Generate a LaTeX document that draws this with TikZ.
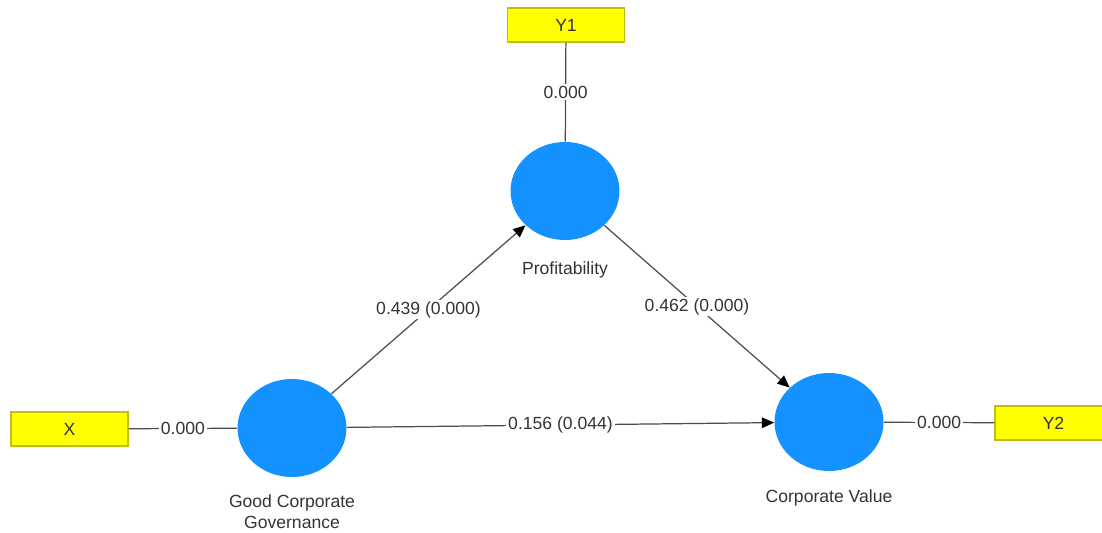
\documentclass[tikz,border=0pt]{standalone}
\usepackage{fontspec}
\setmainfont{Liberation Sans}
\usetikzlibrary{shapes.geometric, arrows.meta, positioning}

\definecolor{lvblue}{RGB}{20,146,255}
\definecolor{indyellow}{RGB}{255,255,0}
\definecolor{indborder}{RGB}{190,190,20}

\begin{document}
\begin{tikzpicture}[
    x=0.02cm, y=-0.02cm,
    font=\fontsize{10}{12}\selectfont,
    >={Triangle[length=7pt, width=6pt, color=black]},
    % latent variables
    latent/.style={
        ellipse,
        fill=lvblue,
        minimum width=2.18cm,
        minimum height=1.96cm
    },
    % indicator boxes
    indicator/.style={
        rectangle,
        fill=indyellow,
        draw=indborder,
        line width=0.6pt,
        minimum width=2.34cm,
        minimum height=0.68cm,
        text=black!80
    },
    lvlabel/.style={text=black!80, align=center},
    link/.style={draw=black!70, line width=0.7pt},
    coef/.style={fill=white, text=black!80, inner sep=1pt}
]
    \useasboundingbox (0,0) rectangle (1102,533);
    \clip (0,0) rectangle (1102,533);

    % --- LATENT VARIABLES ---
    \node[latent] (gcg) at (292,428) {};
    \node[latent] (prof) at (565,191) {};
    \node[latent] (cv) at (829,422) {};

    \node[lvlabel, below=0.22cm of gcg] (gcgtxt) {Good Corporate\\Governance};
    \node[lvlabel, below=0.3cm of prof] (proftxt) {Profitability};
    \node[lvlabel, below=0.25cm of cv] (cvtxt) {Corporate Value};

    % --- INDICATORS ---
    \node[indicator] (x) at (69.5,429) {X};
    \node[indicator] (y1) at (566,25) {Y1};
    \node[indicator] (y2) at (1053.5,423) {Y2};

    % --- LOADINGS ---
    \draw[link] (x) -- node[coef] {0.000} (gcg);
    \draw[link] (y1) -- node[coef] {0.000} (prof);
    \draw[link] (cv) -- node[coef] {0.000} (y2);

    % --- PATHS ---
    \draw[link, ->] (gcg) -- node[coef] {0.439 (0.000)} (prof);
    \draw[link, ->] (prof) -- node[coef] {0.462 (0.000)} (cv);
    \draw[link, ->] (gcg) -- node[coef] {0.156 (0.044)} (cv);

\end{tikzpicture}
\end{document}
